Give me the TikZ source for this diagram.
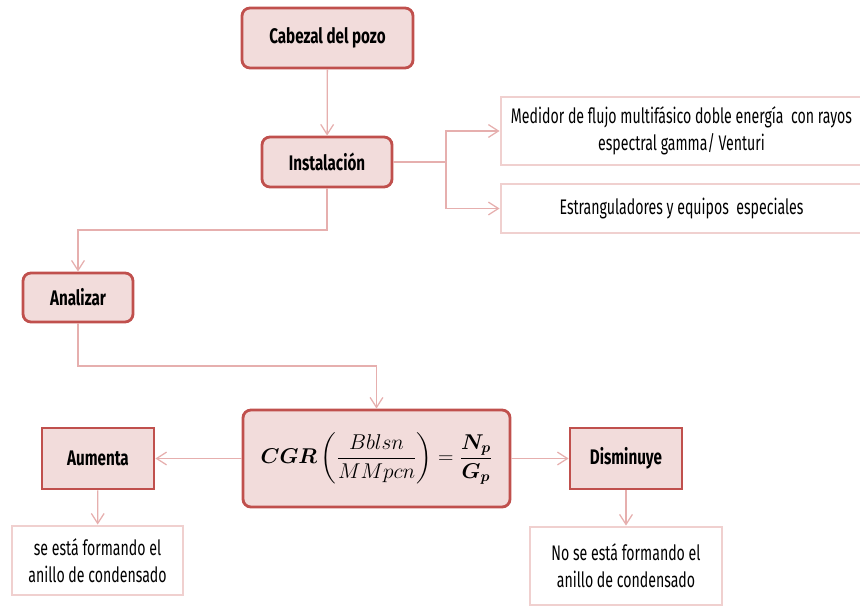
\documentclass[tikz,border=0pt]{standalone}
\usepackage{amsmath}
\usepackage{fontspec}
\setmainfont[FakeStretch=0.67, BoldFeatures={FakeStretch=0.72}]{Fira Sans}
\usetikzlibrary{arrows.meta}
\definecolor{borde}{HTML}{C0504D}
\definecolor{relleno}{HTML}{F2DCDB}
\definecolor{linea}{HTML}{E6AFAE}
\definecolor{bordeclaro}{HTML}{F0D0CF}

\begin{document}
\begin{tikzpicture}[
        x=0.025cm, y=-0.025cm,
        paso/.style={rectangle, draw=borde, line width=2pt, fill=relleno, rounded corners=0.2cm, align=center, inner sep=2pt, font=\bfseries\fontsize{15}{18}\selectfont},
        resultado/.style={paso, rounded corners=0pt},
        nota/.style={rectangle, draw=bordeclaro, line width=2pt, fill=white, align=center, inner sep=2pt, font=\fontsize{15}{19}\selectfont},
        conn/.style={-{Straight Barb[length=2.5mm,width=3.2mm]}, draw=linea, line width=0.9pt}
    ]
        \useasboundingbox (0,0) rectangle (860,605);

        % Cabezal
        \node[paso, minimum width=4.275cm, minimum height=1.5cm] (cabezal) at (327.5,38) {Cabezal del pozo};

        % Instalacion
        \node[paso, minimum width=3.25cm, minimum height=1.25cm] (instal) at (327,162) {Instalación};

        % Equipos
        \node[nota, minimum width=9.025cm, minimum height=1.7cm] (medidor) at (681.5,131) {Medidor de flujo multifásico doble energía~ con rayos\\espectral gamma/ Venturi};
        \node[nota, minimum width=9.025cm, minimum height=1.225cm] (estrang) at (681.5,208.5) {Estranguladores y equipos~ especiales};

        % Analizar
        \node[paso, minimum width=2.75cm, minimum height=1.225cm] (analizar) at (78,297.5) {Analizar};

        % CGR
        \node[paso, minimum width=6.675cm, minimum height=2.425cm, font=\fontsize{17.28}{20}\selectfont] (cgr) at (376.5,458.5)
            {\scalebox{0.88}{$\boldsymbol{CGR}\left(\dfrac{Bblsn}{MMpcn}\right)=\dfrac{\boldsymbol{N_p}}{\boldsymbol{G_p}}$}};

        % Resultados
        \node[resultado, minimum width=2.8cm, minimum height=1.525cm] (aumenta) at (98,458.5) {Aumenta};
        \node[resultado, minimum width=2.8cm, minimum height=1.525cm] (disminuye) at (626,458.5) {Disminuye};

        % Notas
        \node[nota, minimum width=4.275cm, minimum height=1.725cm] (forma) at (97.5,560.5) {se está formando el\\anillo de condensado};
        \node[nota, minimum width=4.8cm, minimum height=1.95cm] (noforma) at (626,566) {No se está formando el\\anillo de condensado};

        % Codos
        \coordinate (split) at (446,162);
        \coordinate (codo1) at (327,230);
        \coordinate (codo2) at (376.5,366);

        % Flechas
        \draw[conn] (cabezal) -- (instal);
        \draw[conn] (instal) -- (split) |- (medidor);
        \draw[conn] (split) |- (estrang);
        \draw[conn] (instal) -- (codo1) -| (analizar);
        \draw[conn] (analizar) |- (codo2) -- (cgr);
        \draw[conn] (cgr) -- (aumenta);
        \draw[conn] (cgr) -- (disminuye);
        \draw[conn] (aumenta) -- (forma);
        \draw[conn] (disminuye) -- (noforma);

    \end{tikzpicture}
\end{document}
